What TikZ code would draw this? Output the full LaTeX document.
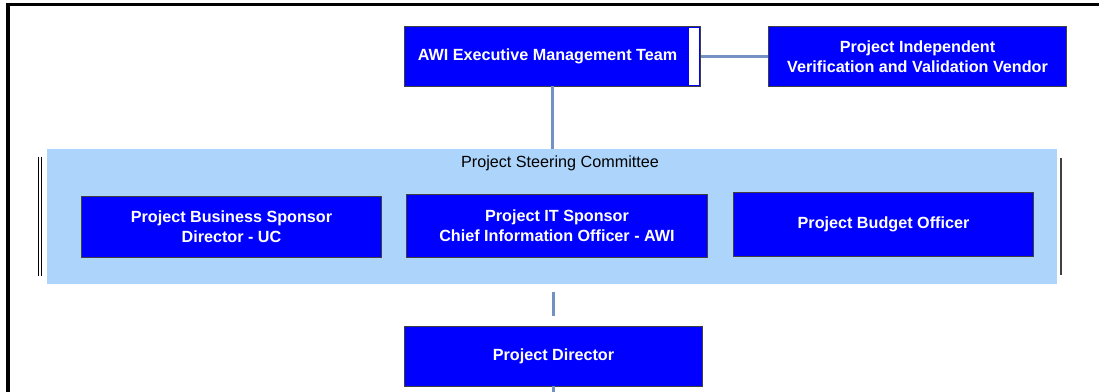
\documentclass[tikz,border=0pt]{standalone}
\usepackage{fontspec}
\setmainfont{Liberation Sans}
\definecolor{BoxBlue}{RGB}{0,0,255}
\definecolor{PanelBlue}{RGB}{173,213,252}
\definecolor{LinkBlue}{RGB}{115,145,195}
\usetikzlibrary{positioning, calc}

\begin{document}
\begin{tikzpicture}[x=0.025cm, y=-0.025cm,
    orgbox/.style={draw=black!75, line width=0.7pt, fill=BoxBlue, text=white, inner sep=0pt,
      align=center, font=\fontsize{11.5}{14}\selectfont\bfseries},
    link/.style={draw=LinkBlue, line width=1.7pt}]
  \useasboundingbox (0,0) rectangle (1099,392);
  % outer frame
  \draw[line width=2.2pt] (1099,4.5) -- (8,4.5) -- (8,392);
  % top row
  \node[orgbox, minimum width=7.375cm, minimum height=1.475cm] (exec) at (552.5,56.5) {AWI Executive Management Team\hspace*{0.25cm}};
  \fill[white] (689,28) rectangle (699,85);
  \node[orgbox, minimum width=7.425cm, minimum height=1.475cm] (ivv) at (917.5,56.5) {Project Independent\\Verification and Validation Vendor};
  % steering committee
  \node[fill=PanelBlue, inner sep=0pt, minimum width=25.25cm, minimum height=3.375cm] (panel) at (552,216.5) {};
  \node[font=\fontsize{11.5}{14}\selectfont, anchor=base] (panelttl) at (560,168) {Project Steering Committee};
  \draw[line width=0.8pt, double, double distance=1.2pt] (40,157) -- (40,276);
  \draw[line width=1.2pt, black!75] (1061,158) -- (1061,275);
  \node[orgbox, minimum width=7.475cm, minimum height=1.5cm] (biz) at (231.5,227) {Project Business Sponsor\\Director - UC};
  \node[orgbox, minimum width=7.5cm, minimum height=1.55cm] (itsp) at (557,226) {Project IT Sponsor\\Chief Information Officer - AWI};
  \node[orgbox, minimum width=7.475cm, minimum height=1.575cm] (budget) at (883.5,224.5) {Project Budget Officer};
  % bottom
  \node[orgbox, minimum width=7.425cm, minimum height=1.475cm] (director) at (553.5,356.5) {Project Director};
  \coordinate (below) at (553.5,392);
  % connectors
  \draw[link] (exec.east) -- (ivv.west);
  \draw[link] (exec.south) -- (exec.south |- panel.north);
  \draw[link, shorten <=5.7pt, shorten >=7.8pt] (director.north |- panel.south) -- (director.north);
  \draw[link] (director.south) -- (below);
\end{tikzpicture}
\end{document}
